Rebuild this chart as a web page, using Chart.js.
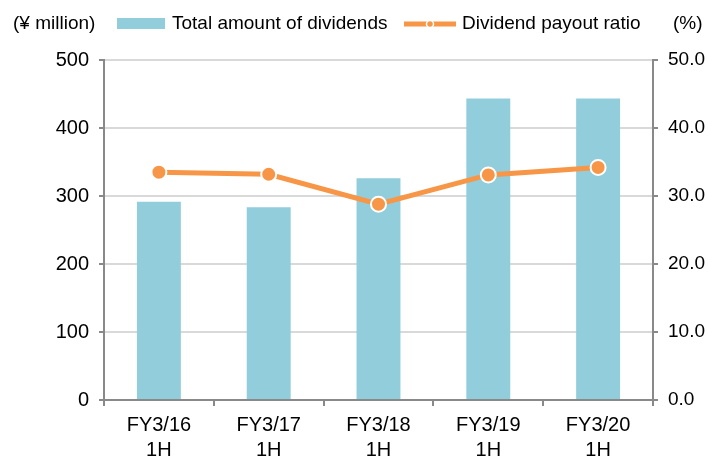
<!DOCTYPE html>
<html>
<head>
<meta charset="utf-8">
<script src="https://cdn.jsdelivr.net/npm/chart.js@4"></script>
<style>
  html, body { margin: 0; padding: 0; background: #fff; }
  canvas { display: block; }
</style>
</head>
<body>
<canvas id="divChart" width="708" height="457"></canvas>
<script>
// data
const categories = [['FY3/16', '1H'], ['FY3/17', '1H'], ['FY3/18', '1H'], ['FY3/19', '1H'], ['FY3/20', '1H']];
const dividends = [291.5, 283.5, 326, 443.5, 443.5];      // ¥ million
const payoutRatio = [33.5, 33.2, 28.8, 33.1, 34.2];      // %

const barColor = '#92CDDC';
const lineColor = '#F79646';
const axisGray = '#898989';
const gridGray = '#D9D9D9';
const fontFam = '"Liberation Sans", Arial, sans-serif';

Chart.defaults.font.family = fontFam;
Chart.defaults.color = '#000';

// header: units + hand drawn legend
const headerPlugin = {
    id: 'header',
    afterDraw(chart) {
        const ctx = chart.ctx;
        const y = 24;
        ctx.save();
        ctx.font = '19px ' + fontFam;
        ctx.fillStyle = '#000';
        ctx.textBaseline = 'middle';
        ctx.textAlign = 'left';
        ctx.fillText('(¥ million)', 13, y);

        // bar legend
        ctx.fillStyle = chart.data.datasets[1].backgroundColor;
        ctx.fillRect(117, 18, 48, 11);
        ctx.fillStyle = '#000';
        ctx.fillText(chart.data.datasets[1].label, 172, y);

        // line legend
        ctx.strokeStyle = chart.data.datasets[0].borderColor;
        ctx.lineWidth = 5;
        ctx.beginPath();
        ctx.moveTo(404, y);
        ctx.lineTo(456, y);
        ctx.stroke();
        ctx.beginPath();
        ctx.arc(430, y, 3.5, 0, Math.PI * 2);
        ctx.fillStyle = chart.data.datasets[0].borderColor;
        ctx.fill();
        ctx.lineWidth = 1.5;
        ctx.strokeStyle = '#fff';
        ctx.stroke();
        ctx.fillStyle = '#000';
        ctx.fillText(chart.data.datasets[0].label, 462, y);

        ctx.fillText('(%)', 673, y);
        ctx.restore();
    }
};

new Chart(document.getElementById('divChart'), {
    type: 'bar',
    data: {
        labels: categories,
        datasets: [{
            type: 'line',
            label: 'Dividend payout ratio',
            data: payoutRatio,
            yAxisID: 'y1',
            borderColor: lineColor,
            backgroundColor: lineColor,
            borderWidth: 5,
            pointRadius: 7.5,
            pointBackgroundColor: lineColor,
            pointBorderColor: '#fff',
            pointBorderWidth: 2,
            tension: 0,
            order: 0
        }, {
            label: 'Total amount of dividends',
            data: dividends,
            yAxisID: 'y',
            backgroundColor: barColor,
            barPercentage: 0.4,
            categoryPercentage: 1,
            order: 1
        }]
    },
    options: {
        responsive: false,
        animation: false,
        layout: { padding: { top: 60, left: 0, right: 0, bottom: 0 } },
        plugins: {
            legend: { display: false },
            tooltip: { enabled: false }
        },
        scales: {
            x: {
                offset: true,
                grid: { drawOnChartArea: false, offset: true, tickLength: 6, tickColor: axisGray, lineWidth: 2 },
                border: { color: axisGray, width: 2 },
                ticks: { font: { size: 20, lineHeight: 1.25 }, padding: 7, maxRotation: 0, autoSkip: false },
                afterFit(s) { s.height = 57; }
            },
            y: {
                position: 'left',
                min: 0, max: 500,
                ticks: { stepSize: 100, font: { size: 20 }, padding: 10 },
                grid: { color: gridGray, lineWidth: 2, tickColor: axisGray, tickLength: 5 },
                border: { color: axisGray, width: 2 },
                afterFit(s) { s.width = 104; }
            },
            y1: {
                position: 'right',
                min: 0, max: 50,
                ticks: { stepSize: 10, font: { size: 19 }, padding: 10, callback: v => v.toFixed(1) },
                grid: { drawOnChartArea: false, tickColor: axisGray, tickLength: 5, lineWidth: 2 },
                border: { color: axisGray, width: 2 },
                afterFit(s) { s.width = 55; }
            }
        }
    },
    plugins: [headerPlugin]
});
</script>
</body>
</html>
